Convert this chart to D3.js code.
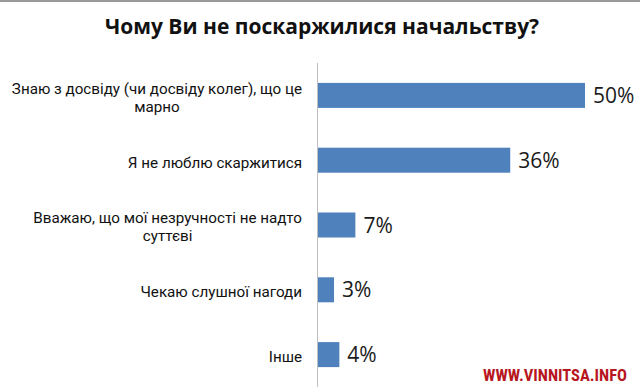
<!DOCTYPE html>
<html>
<head>
<meta charset="utf-8">
<script src="https://cdn.jsdelivr.net/npm/d3@7"></script>
<style>
    body { margin: 0; background: #fff; }
    svg { display: block; }
</style>
</head>
<body>
<svg id="chart" width="640" height="391"></svg>
<script>
const title = "Чому Ви не поскаржилися начальству?";
const categories = [
    "Знаю з досвіду (чи досвіду колег), що це\nмарно",
    "Я не люблю скаржитися",
    "Вважаю, що мої незручності не надто\nсуттєві",
    "Чекаю слушної нагоди",
    "Інше"
];
const values = [50, 36, 7, 3, 4];
const valueLabels = values.map(v => v + "%");

const width = 640, height = 391;
const svg = d3.select("#chart");
const font = "'Open Sans', 'Noto Sans', sans-serif";

// thin grey frame line at the top
svg.append("rect")
    .attr("x", 0).attr("y", 0)
    .attr("width", width).attr("height", 2)
    .attr("fill", "#9a9a9a");

svg.append("text")
    .attr("x", 322)
    .attr("y", 34)
    .attr("text-anchor", "middle")
    .attr("font-family", font)
    .attr("font-weight", "bold")
    .attr("font-size", 21)
    .attr("fill", "#111")
    .text(title);

const x = d3.scaleLinear()
    .domain([0, 50])
    .range([318, 585]);

const y = d3.scaleBand()
    .domain(categories)
    .range([63, 387])
    .paddingInner(0.614)
    .paddingOuter(0.307);

// vertical axis line
svg.append("line")
    .attr("x1", 317.5).attr("x2", 317.5)
    .attr("y1", 63).attr("y2", 387)
    .attr("stroke", "#bfbfbf")
    .attr("stroke-width", 1);

svg.append("g")
    .selectAll("rect")
    .data(values)
    .join("rect")
    .attr("x", x(0))
    .attr("y", (d, i) => y(categories[i]))
    .attr("width", d => x(d) - x(0))
    .attr("height", y.bandwidth())
    .attr("fill", "#4f81bd");

svg.append("g")
    .selectAll("text")
    .data(values)
    .join("text")
    .attr("x", d => x(d) + 8)
    .attr("y", (d, i) => y(categories[i]) + y.bandwidth() / 2)
    .attr("dy", "0.36em")
    .attr("font-family", font)
    .attr("font-size", 21)
    .attr("fill", "#1a1a1a")
    .text((d, i) => valueLabels[i]);

// category labels: block right aligned at the axis, each line centred
const lineH = 18;
const cat = svg.append("g")
    .selectAll("text")
    .data(categories)
    .join("text")
    .attr("text-anchor", "middle")
    .attr("font-family", "Roboto, 'Open Sans', sans-serif")
    .attr("font-size", 15.2)
    .attr("fill", "#111");

cat.each(function (d) {
    const lines = d.split("\n");
    const t = d3.select(this);
    const cy = y(d) + y.bandwidth() / 2 + 2;
    const y0 = cy - (lines.length - 1) * lineH / 2;
    lines.forEach((ln, j) => {
        t.append("tspan")
            .attr("x", 0)
            .attr("y", y0 + j * lineH)
            .attr("dy", "0.36em")
            .text(ln);
    });
});

cat.each(function () {
    const spans = d3.select(this).selectAll("tspan").nodes();
    const w = d3.max(spans, s => s.getComputedTextLength());
    spans.forEach(s => d3.select(s).attr("x", 302 - w / 2));
});

svg.append("text")
    .attr("x", 483)
    .attr("y", 381)
    .attr("font-family", "'Liberation Sans Narrow', 'Roboto Condensed', 'Roboto', sans-serif")
    .attr("font-weight", "bold")
    .attr("font-size", 16.5)
    .attr("textLength", 144)
    .attr("lengthAdjust", "spacingAndGlyphs")
    .attr("fill", "#b8161e")
    .text("WWW.VINNITSA.INFO");
</script>
</body>
</html>
